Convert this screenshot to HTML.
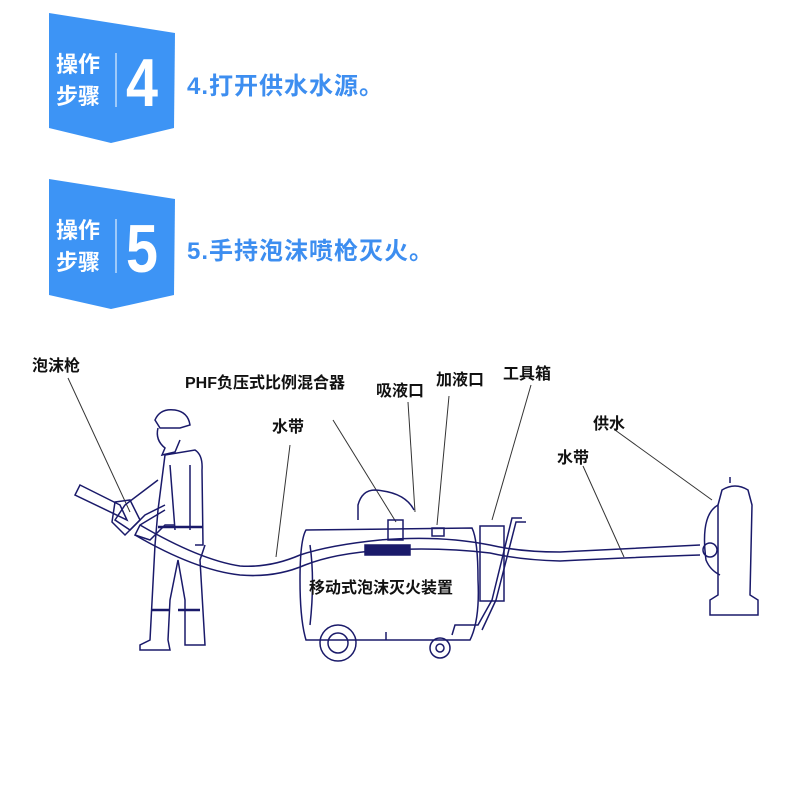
<!DOCTYPE html>
<html><head><meta charset="utf-8"><style>
html,body{margin:0;padding:0;background:#fff;}
body{width:790px;height:797px;position:relative;overflow:hidden;font-family:"Liberation Sans","Noto Sans CJK SC",sans-serif;}
.t{position:absolute;font-weight:bold;color:#3d8ef0;font-size:24px;letter-spacing:1px;white-space:nowrap;}
.l{position:absolute;font-size:16px;font-weight:bold;color:#111;white-space:nowrap;}
</style></head><body>
<svg width="790" height="797" style="position:absolute;left:0;top:0">
<g fill="#3d94f5">
<polygon points="49,13 175,33 174,128 111,143 49,128"/>
<polygon points="49,179 175,199 174,295 111,309 49,295"/>
</g>
<g stroke="#fff" stroke-width="1"><line x1="116" y1="53" x2="116" y2="107"/><line x1="116" y1="219" x2="116" y2="273"/></g>
<g fill="#fff" font-family="Liberation Sans,Noto Sans CJK SC,sans-serif" font-weight="bold">
<text x="56" y="72" font-size="22">操作</text><text x="56" y="104" font-size="22">步骤</text>
<text x="126" y="106" font-size="68" font-family="Liberation Sans Narrow,Liberation Sans,sans-serif" textLength="32" lengthAdjust="spacingAndGlyphs">4</text>
<text x="56" y="238" font-size="22">操作</text><text x="56" y="270" font-size="22">步骤</text>
<text x="126" y="272" font-size="68" font-family="Liberation Sans Narrow,Liberation Sans,sans-serif" textLength="32" lengthAdjust="spacingAndGlyphs">5</text>
</g>
<g fill="none" stroke="#1a1a6a" stroke-width="1.5">
<g stroke="#333" stroke-width="1">
<line x1="68" y1="378" x2="130" y2="512"/>
<line x1="290" y1="445" x2="276" y2="557"/>
<line x1="333" y1="420" x2="396" y2="522"/>
<line x1="408" y1="402" x2="415" y2="512"/>
<line x1="449" y1="396" x2="437" y2="525"/>
<line x1="531" y1="385" x2="492" y2="520"/>
<line x1="615" y1="430" x2="712" y2="500"/>
<line x1="583" y1="466" x2="624" y2="557"/>
</g>
<path d="M155,420 Q160,408 175,410 Q188,412 190,425 L180,428 L160,428 Z"/>
<path d="M158,428 Q155,440 165,448 L162,455 L175,452 L180,440"/>
<path d="M165,455 L195,450 Q203,455 202,470 L203,545 L195,545"/>
<path d="M165,455 L158,510 L155,545 L150,640 L140,645 L140,650 L170,650 L168,640 L170,600 L178,560 L185,600 L185,645 L205,645 L200,560 L205,545"/>
<path d="M170,465 L175,530 M190,465 L190,530"/>
<path d="M158,480 L125,505 L115,520 L130,530 L145,515 L165,505"/>
<path d="M165,510 L140,525 L135,535 L150,540 L165,525 L175,525"/>
<line x1="158" y1="527" x2="203" y2="527" stroke-width="2.5"/>
<line x1="152" y1="610" x2="170" y2="610" stroke-width="2.5"/><line x1="178" y1="610" x2="200" y2="610" stroke-width="2.5"/>
<path d="M80,485 L120,505 L127,520 L75,495 Z"/>
<path d="M115,502 L130,500 L140,520 L125,535 L112,522 Z"/>
<path d="M140,525 Q200,560 240,566 Q270,568 300,555 Q330,545 380,540 Q440,535 490,545 Q520,552 560,552 Q640,548 700,545"/>
<path d="M135,535 Q195,570 240,575 Q275,578 305,565 Q335,553 385,550 Q440,547 490,553 Q520,560 560,561 Q640,557 700,555"/>
<path d="M306,530 Q300,540 300,580 Q300,620 306,640 L470,640 Q480,620 478,580 Q478,540 472,528 Z"/>
<path d="M310,545 Q315,580 310,625"/>
<path d="M358,520 L358,505 Q362,490 375,490 Q405,492 414,510"/>
<rect x="388" y="520" width="15" height="20"/>
<rect x="365" y="545" width="45" height="10" fill="#1a1a6a"/>
<rect x="432" y="528" width="12" height="8"/>
<rect x="480" y="526" width="24" height="75"/>
<path d="M522,518 L512,518 L492,600 L478,625 L455,625 L452,635"/>
<path d="M526,522 L516,522 L496,600 L482,630"/>
<circle cx="338" cy="643" r="18"/><circle cx="338" cy="643" r="10"/>
<circle cx="440" cy="648" r="10"/><circle cx="440" cy="648" r="4"/>
<path d="M386,632 L386,640"/>
<path d="M722,490 Q735,482 748,490 L752,505 L750,595 L758,600 L758,615 L710,615 L710,600 L718,595 L718,505 Z"/>
<path d="M718,505 Q700,515 706,560 Q710,570 720,575"/>
<circle cx="710" cy="550" r="7"/>
<line x1="730" y1="483" x2="730" y2="477"/>
</g>
</svg>
<div class="t" style="left:187px;top:66px">4.打开供水水源。</div>
<div class="t" style="left:187px;top:231px">5.手持泡沫喷枪灭火。</div>
<div class="l" style="left:32px;top:352px">泡沫枪</div>
<div class="l" style="left:185px;top:369px">PHF负压式比例混合器</div>
<div class="l" style="left:376px;top:377px">吸液口</div>
<div class="l" style="left:436px;top:366px">加液口</div>
<div class="l" style="left:503px;top:360px">工具箱</div>
<div class="l" style="left:272px;top:413px">水带</div>
<div class="l" style="left:593px;top:410px">供水</div>
<div class="l" style="left:557px;top:444px">水带</div>
<div class="l" style="left:309px;top:574px;font-size:16px">移动式泡沫灭火装置</div>
</body></html>
